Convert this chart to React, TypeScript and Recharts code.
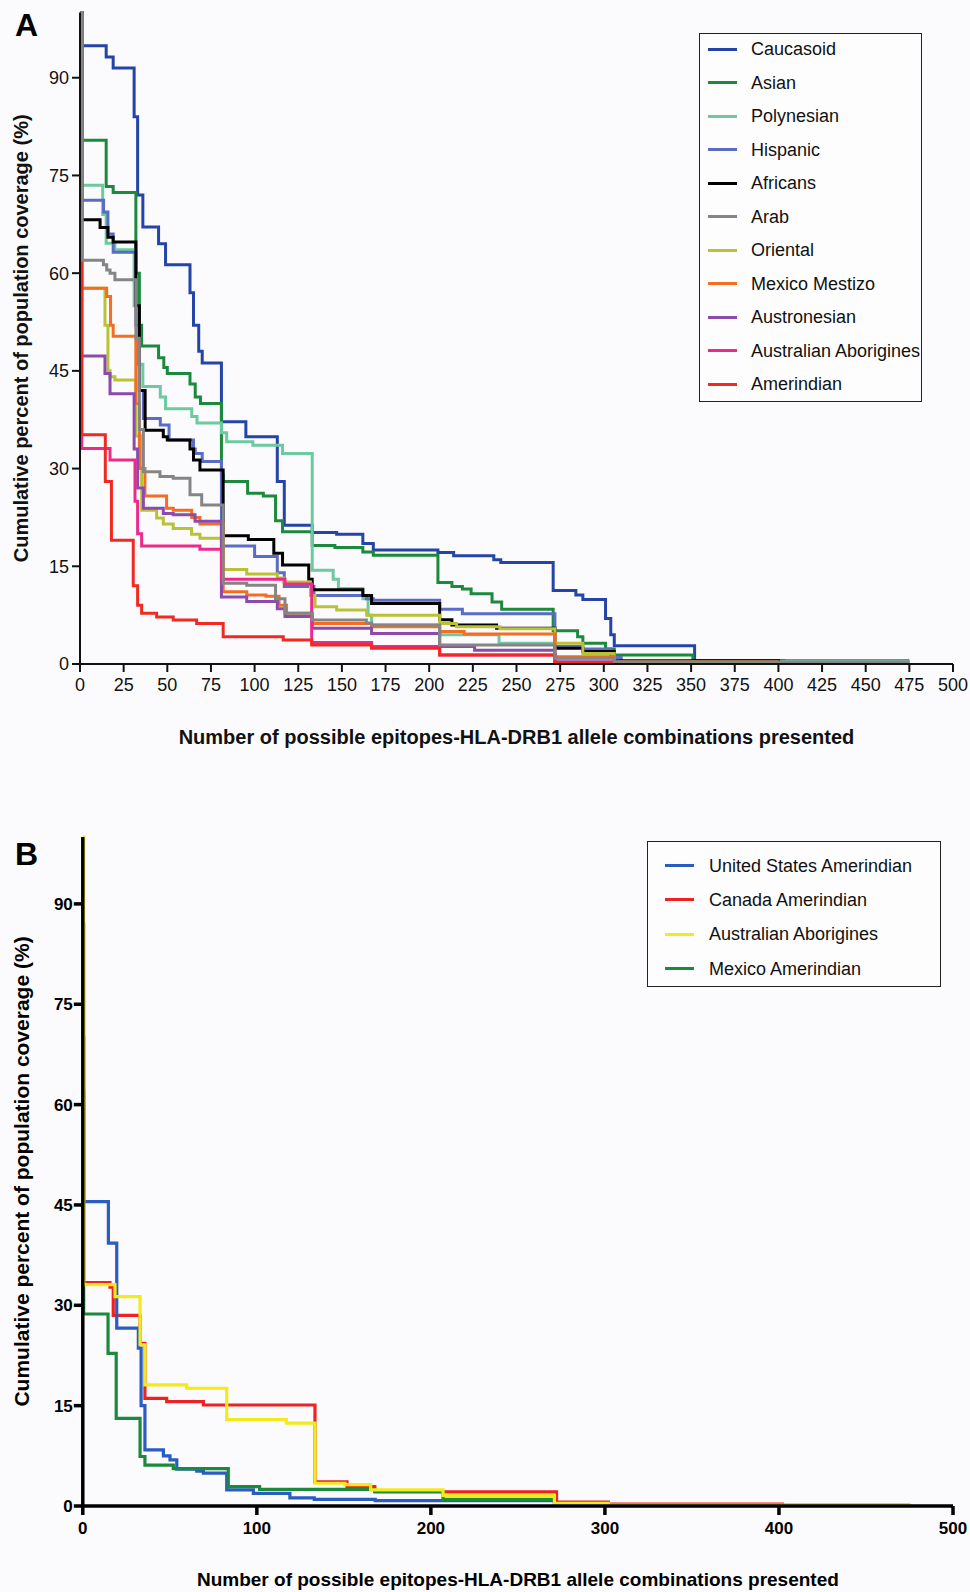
import React from 'react';
import { LineChart, Line, XAxis, YAxis } from 'recharts';

// axis ticks
const xTicksA = [0, 25, 50, 75, 100, 125, 150, 175, 200, 225, 250, 275, 300, 325, 350, 375, 400, 425, 450, 475, 500];
const xTicksB = [0, 100, 200, 300, 400, 500];
const yTicks = [0, 15, 30, 45, 60, 75, 90];

// panel A: [epitope-allele combinations, cumulative % coverage], step after
const caucasoid = [[0, 100], [1, 94.9], [15, 93.2], [19, 91.5], [31, 84], [33, 72], [36, 67.1], [45, 64.5], [49, 61.3], [63, 57], [65, 52], [68, 48], [70, 46.2], [81, 37.2], [95, 34.9], [113, 28], [117, 21.3], [133, 20.2], [147, 19.9], [162, 18.5], [168, 17.5], [205, 17.1], [214, 16.6], [237, 16.0], [241, 15.6], [271, 11.3], [284, 10.6], [288, 9.9], [301, 7], [304, 4.5], [306, 2.8], [352, 0.5], [403, 0.3], [475, 0.3]];
const asian = [[0, 100], [1, 80.4], [15, 73.3], [19, 72.4], [32, 60], [34, 52], [35.3, 48.8], [45, 47], [48, 45.5], [50, 44.6], [63, 43], [66, 41], [69, 40], [81, 29], [82, 28], [96, 26.2], [105, 25.8], [112, 22], [116, 20.3], [133, 18.2], [146, 17.9], [162, 17.2], [168, 16.7], [205, 12.5], [213, 11.9], [219, 11.5], [224, 10.8], [236, 9.5], [241.5, 8.4], [271, 5.1], [285, 4.2], [288, 3.2], [301, 2.3], [306, 1.4], [351, 0.5], [475, 0.5]];
const polynesian = [[0, 100], [1, 73.5], [13, 69], [15, 64.6], [20, 63.6], [31, 55], [33, 46], [36, 42.6], [46, 41], [49, 39.2], [64, 38], [67, 37], [81, 35.5], [84, 34.1], [99, 33.6], [116, 32.3], [133, 14.4], [145, 13], [148, 11.6], [162, 10], [165, 7.5], [167, 6.0], [206, 4.5], [240, 3.2], [272, 0.9], [306, 0.4], [475, 0.4]];
const hispanic = [[0, 100], [1, 71.2], [13.5, 69.4], [16, 66], [19, 63.2], [32, 52], [34, 42], [36.3, 37.7], [46, 36.7], [51, 34.4], [65, 33], [66, 32.3], [70, 31.1], [81, 18.1], [100, 16.5], [113, 14], [117, 11.9], [134, 10.5], [164, 10.0], [168, 9.8], [206, 8.4], [219, 7.7], [272, 2.7], [288, 2.3], [304, 1.0], [310, 0.4], [400, 0.4]];
const africans = [[0, 100], [1, 68.2], [11.5, 67], [16, 65.5], [19, 64.8], [32, 55], [34, 42], [37.3, 35.9], [47.7, 34.9], [50, 34.4], [63, 33], [65, 31.3], [68.7, 29.8], [82, 19.7], [96.4, 19.1], [111, 17], [116, 15.2], [131, 13], [133, 11.4], [162, 10.5], [167, 9.3], [206, 6.8], [213, 6.0], [238.6, 5.5], [272, 2.4], [288, 1.9], [306, 0.5], [400, 0.3]];
const arab = [[0, 100], [1, 62], [13.4, 61.3], [15.3, 60.5], [17.2, 60], [20, 59], [32, 50], [34, 36], [36.3, 29.5], [45.8, 28.8], [53.4, 28.5], [63, 26], [69.7, 24.4], [82, 12.4], [95.5, 12.1], [112, 10], [117.4, 7.8], [133, 6.75], [164, 6.3], [167, 6.0], [206, 2.9], [272, 0.9], [306, 0.3], [475, 0.3]];
const oriental = [[0, 100], [1, 57.7], [14.3, 52], [16, 45], [17.2, 44.1], [20, 43.6], [32, 35], [35.3, 23.6], [43.9, 22.4], [47.7, 21.5], [53.4, 20.8], [63.9, 19.9], [68.7, 19.3], [82, 14.5], [95.5, 13.8], [113, 13.2], [116.4, 12.6], [132, 10.5], [134.6, 8.8], [147, 8.3], [164.2, 7.5], [206, 6.2], [215.7, 5.7], [240.5, 5.4], [272, 3.2], [288, 1.6], [306, 0.3], [400, 0.3]];
const mexicoMestizo = [[0, 100], [1, 57.7], [15.3, 56.4], [17.5, 52], [19, 50.3], [32, 40], [34, 30], [37.2, 25.8], [49.6, 23.9], [53.4, 23.6], [64, 22.5], [68.7, 21.5], [82, 11.1], [95.5, 10.6], [106.5, 10.4], [114, 9], [118.3, 7.8], [133, 6.2], [167, 5.7], [206, 5.0], [220, 4.6], [272, 1.1], [306, 0.3], [400, 0.3]];
const austronesian = [[0, 100], [1, 47.3], [14.3, 44.6], [17.2, 41.5], [31, 33], [33, 27], [36.3, 23.9], [47.7, 23.1], [53.4, 22.9], [65.9, 21.9], [81, 10.3], [95.5, 9.6], [113, 8.5], [117.4, 7.3], [133, 5.5], [167, 4.7], [206, 2.7], [226, 2.1], [272, 0.35], [306, 0.2], [400, 0.2]];
const australianAborigines = [[0, 100], [1, 33.1], [17.2, 31.3], [31.5, 25], [33, 20], [35.3, 18.1], [68.7, 17.6], [81, 13.0], [117.4, 12.3], [132.7, 3.3], [167, 2.7], [206, 1.4], [272, 0.2], [400, 0.2]];
const amerindian = [[0, 100], [1, 35.2], [14.5, 28], [18, 19.0], [30.5, 12], [33, 9], [35.3, 7.8], [43.9, 7.2], [53.4, 6.75], [66.8, 6.2], [82, 4.2], [116.4, 3.7], [132.7, 2.9], [167, 2.4], [206, 1.4], [272, 0.2], [400, 0.2]];

// panel B
const usAmerindian = [[0, 87], [0.5, 45.5], [14.7, 39.3], [19.5, 26.6], [31.9, 23.6], [33.5, 15], [35.7, 8.4], [46.3, 7.5], [50.1, 6.9], [54, 5.5], [65.5, 5.2], [69.3, 4.9], [82.7, 2.4], [98, 1.9], [119, 1.2], [133, 1.0], [168, 0.8], [271, 0.1], [475, 0.1]];
const canadaAmerindian = [[0, 70], [0.5, 33.4], [15.6, 32.7], [17.5, 28.5], [32.9, 24.3], [35.7, 16.1], [48.2, 15.6], [69.3, 15.1], [133.4, 3.6], [151.8, 2.9], [167.8, 2.1], [272.2, 0.6], [302, 0.3], [402, 0.1], [475, 0.1]];
const aboriginesB = [[0, 100], [0.5, 33.1], [18.5, 31.3], [32.9, 24.1], [35.7, 18.1], [59.7, 17.6], [82.7, 12.9], [117, 12.4], [133.4, 3.4], [150.6, 3.2], [165.4, 2.4], [207, 1.6], [271, 0.4], [302, 0.15], [476, 0.15]];
const mexicoAmerindian = [[0, 62], [0.5, 28.7], [14.5, 22.8], [19.2, 13.1], [32.9, 7.4], [35.7, 6.1], [52, 5.6], [83.6, 2.9], [101.6, 2.5], [167.8, 2.2], [207, 1.0], [271, 0.1], [400, 0.1]];

const seriesA = [
  { name: 'Caucasoid', color: '#2444a8', points: caucasoid },
  { name: 'Asian', color: '#1b8a3c', points: asian },
  { name: 'Polynesian', color: '#6cc9a0', points: polynesian },
  { name: 'Hispanic', color: '#5a6cc4', points: hispanic },
  { name: 'Africans', color: '#000000', points: africans },
  { name: 'Arab', color: '#858585', points: arab },
  { name: 'Oriental', color: '#b8c234', points: oriental },
  { name: 'Mexico Mestizo', color: '#f46d22', points: mexicoMestizo },
  { name: 'Austronesian', color: '#8c4aac', points: austronesian },
  { name: 'Australian Aborigines', color: '#ec2a8c', points: australianAborigines },
  { name: 'Amerindian', color: '#f02a22', points: amerindian },
];
// Arab drawn last, as in the figure
const drawOrderA = [0, 1, 2, 3, 4, 6, 7, 8, 9, 10, 5];

const seriesB = [
  { name: 'United States Amerindian', color: '#2b5cc2', points: usAmerindian },
  { name: 'Canada Amerindian', color: '#ee2222', points: canadaAmerindian },
  { name: 'Australian Aborigines', color: '#f2ea1a', points: aboriginesB },
  { name: 'Mexico Amerindian', color: '#1b8a3c', points: mexicoAmerindian },
];
const drawOrderB = [1, 0, 3, 2];

const toPoints = (pairs: number[][]) => pairs.map(([x, y]) => ({ x, y }));

const FONT = '"Liberation Sans", Arial, Helvetica, sans-serif';
const X_TITLE = 'Number of possible epitopes-HLA-DRB1 allele combinations presented';
const Y_TITLE = 'Cumulative percent of population coverage (%)';

type Series = { name: string; color: string; points: number[][] };

function LegendBox({
  items,
  left,
  top,
  width,
  height,
  firstRow,
  rowGap,
  lineX,
  textX,
}: {
  items: Series[];
  left: number;
  top: number;
  width: number;
  height: number;
  firstRow: number;
  rowGap: number;
  lineX: number;
  textX: number;
}) {
  return (
    <div
      style={{
        position: 'absolute',
        left,
        top,
        width,
        height,
        border: '1px solid #222',
        background: '#fdfdfd',
        boxSizing: 'border-box',
      }}
    >
      {items.map((s, i) => (
        <div key={s.name}>
          <div
            style={{
              position: 'absolute',
              left: lineX,
              top: firstRow + i * rowGap - 1.5,
              width: 29,
              height: 3,
              background: s.color,
            }}
          />
          <div
            style={{
              position: 'absolute',
              left: textX,
              top: firstRow + i * rowGap - 11,
              lineHeight: '22px',
              fontSize: 18,
              fontFamily: FONT,
              color: '#111',
              whiteSpace: 'nowrap',
            }}
          >
            {s.name}
          </div>
        </div>
      ))}
    </div>
  );
}

export default function App() {
  return (
    <div
      style={{
        position: 'absolute',
        left: 0,
        top: 0,
        width: 970,
        height: 1592,
        background: '#fbfbfd',
        fontFamily: FONT,
      }}
    >
      {/* panel A */}
      <div style={{ position: 'absolute', left: 0, top: 0 }}>
        <LineChart width={970} height={800} margin={{ top: 12.6, right: 17, bottom: 56, left: 0 }}>
          <XAxis
            type="number"
            dataKey="x"
            domain={[0, 500]}
            ticks={xTicksA}
            interval={0}
            height={80}
            tickSize={8}
            tickMargin={6}
            axisLine={{ stroke: '#111', strokeWidth: 2 }}
            tickLine={{ stroke: '#111', strokeWidth: 2 }}
            tick={{ fill: '#111', fontSize: 18, fontFamily: FONT }}
            label={{
              value: X_TITLE,
              position: 'insideBottom',
              offset: 0,
              style: { fill: '#111', fontSize: 20, fontWeight: 'bold', fontFamily: FONT },
            }}
          />
          <YAxis
            type="number"
            domain={[0, 100]}
            ticks={yTicks}
            interval={0}
            width={80}
            tickSize={8}
            tickMargin={3}
            axisLine={{ stroke: '#111', strokeWidth: 2 }}
            tickLine={{ stroke: '#111', strokeWidth: 2 }}
            tick={{ fill: '#111', fontSize: 18, fontFamily: FONT }}
            label={{
              value: Y_TITLE,
              angle: -90,
              position: 'insideLeft',
              offset: 21,
              style: { textAnchor: 'middle', fill: '#111', fontSize: 20, fontWeight: 'bold', fontFamily: FONT },
            }}
          />
          {drawOrderA.map((i) => (
            <Line
              key={seriesA[i].name}
              data={toPoints(seriesA[i].points)}
              dataKey="y"
              name={seriesA[i].name}
              type="stepAfter"
              stroke={seriesA[i].color}
              strokeWidth={3}
              dot={false}
              isAnimationActive={false}
            />
          ))}
        </LineChart>
      </div>

      {/* panel B */}
      <div style={{ position: 'absolute', left: 0, top: 800 }}>
        <LineChart width={970} height={792} margin={{ top: 37, right: 17, bottom: 6, left: 0 }}>
          <XAxis
            type="number"
            dataKey="x"
            domain={[0, 500]}
            ticks={xTicksB}
            interval={0}
            height={80}
            tickSize={9}
            tickMargin={7}
            axisLine={{ stroke: '#000', strokeWidth: 3.5 }}
            tickLine={{ stroke: '#000', strokeWidth: 3.5 }}
            tick={{ fill: '#000', fontSize: 17, fontWeight: 'bold', fontFamily: FONT }}
            label={{
              value: X_TITLE,
              position: 'insideBottom',
              offset: 0,
              style: { fill: '#000', fontSize: 19, fontWeight: 'bold', fontFamily: FONT },
            }}
          />
          <YAxis
            type="number"
            domain={[0, 100]}
            ticks={yTicks}
            interval={0}
            width={82.8}
            tickSize={9}
            tickMargin={1}
            axisLine={{ stroke: '#000', strokeWidth: 3.5 }}
            tickLine={{ stroke: '#000', strokeWidth: 3.5 }}
            tick={{ fill: '#000', fontSize: 17, fontWeight: 'bold', fontFamily: FONT }}
            label={{
              value: Y_TITLE,
              angle: -90,
              position: 'insideLeft',
              offset: 22,
              style: { textAnchor: 'middle', fill: '#000', fontSize: 21, fontWeight: 'bold', fontFamily: FONT },
            }}
          />
          {drawOrderB.map((i) => (
            <Line
              key={seriesB[i].name}
              data={toPoints(seriesB[i].points)}
              dataKey="y"
              name={seriesB[i].name}
              type="stepAfter"
              stroke={seriesB[i].color}
              strokeWidth={3.2}
              dot={false}
              isAnimationActive={false}
            />
          ))}
        </LineChart>
      </div>

      <div style={{ position: 'absolute', left: 15, top: 9, fontSize: 32, lineHeight: '32px', fontWeight: 'bold' }}>A</div>
      <div style={{ position: 'absolute', left: 15, top: 837.5, fontSize: 32, lineHeight: '32px', fontWeight: 'bold' }}>B</div>

      <LegendBox items={seriesA} left={699} top={33} width={223} height={369} firstRow={15.3} rowGap={33.47} lineX={8} textX={51} />
      <LegendBox items={seriesB} left={647} top={841} width={294} height={146} firstRow={23.5} rowGap={34.4} lineX={17} textX={61} />
    </div>
  );
}
